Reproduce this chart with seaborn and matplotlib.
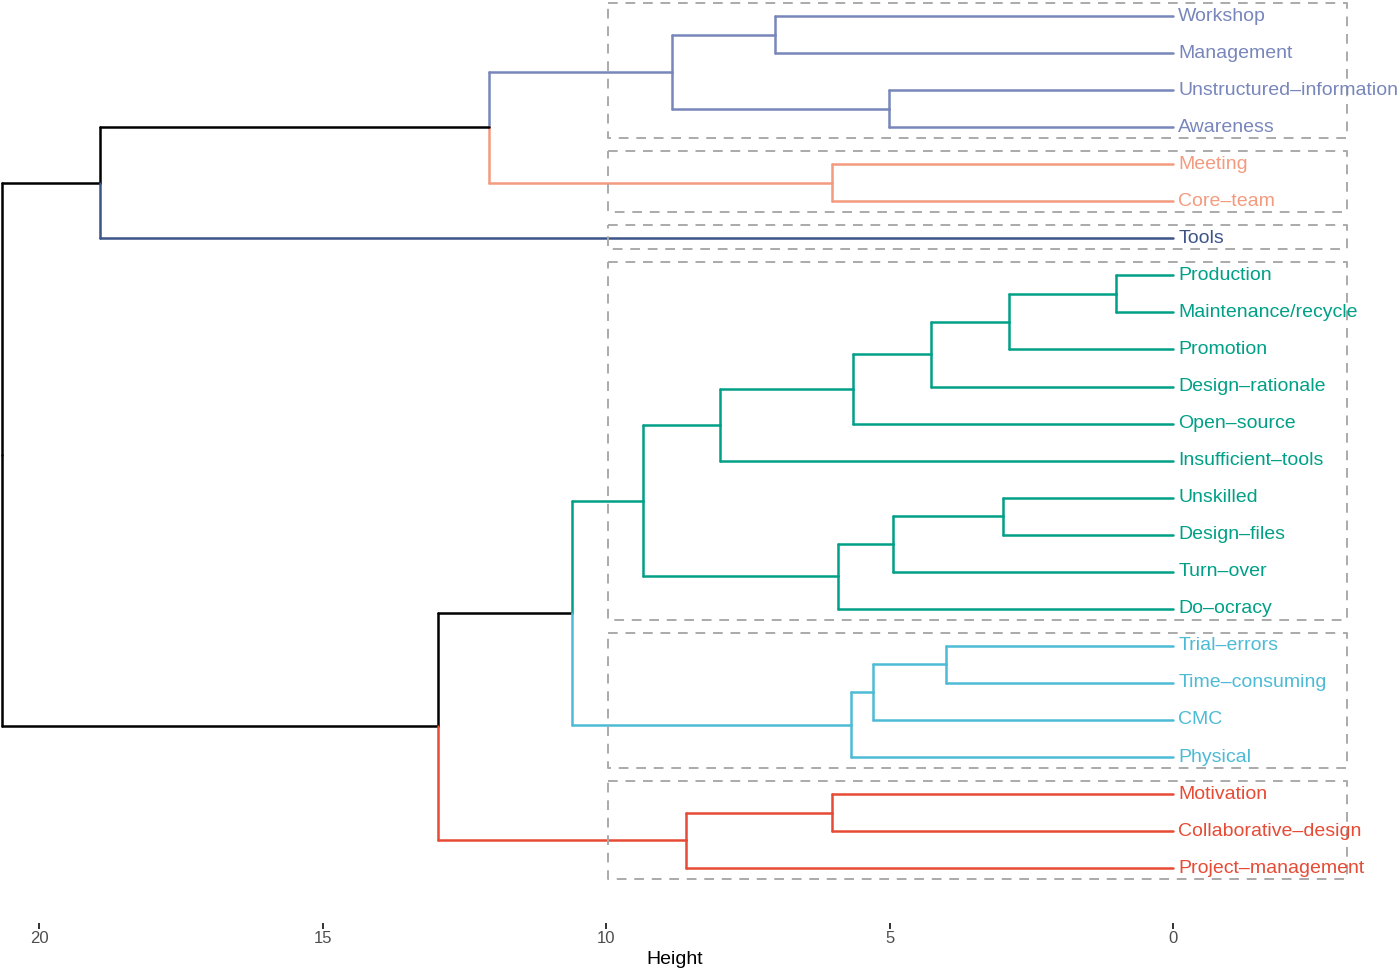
import pandas as pd
import matplotlib
matplotlib.use("Agg")
import matplotlib.pyplot as plt
import seaborn as sns

# leaves, top to bottom
labels = ["Workshop", "Management", "Unstructured–information", "Awareness",
          "Meeting", "Core–team", "Tools", "Production", "Maintenance/recycle",
          "Promotion", "Design–rationale", "Open–source", "Insufficient–tools",
          "Unskilled", "Design–files", "Turn–over", "Do–ocracy",
          "Trial–errors", "Time–consuming", "CMC", "Physical",
          "Motivation", "Collaborative–design", "Project–management"]
cluster = [0, 0, 0, 0, 1, 1, 2, 3, 3, 3, 3, 3, 3, 3, 3, 3, 3,
           4, 4, 4, 4, 5, 5, 5]
cluster_colors = ["#7886BB", "#F39B7F", "#3C5488", "#00A087", "#4DBBD5", "#E64B35"]

# merges (scipy style: leaves are 0..23, merge k creates node 24+k)
merge_a = [0, 2, 24, 4, 26, 28, 7, 30, 31, 32, 33, 13, 35, 36, 34, 17, 39, 40, 38, 21, 43, 42, 29]
merge_b = [1, 3, 25, 5, 27, 6, 8, 9, 10, 11, 12, 14, 15, 16, 37, 18, 19, 20, 41, 22, 23, 44, 45]
merge_h = [7.02, 5.01, 8.84, 6.02, 12.06, 18.93, 1.0, 2.89, 4.27, 5.64, 7.99,
           3.0, 4.94, 5.91, 9.35, 4.0, 5.29, 5.68, 10.6, 6.02, 8.59, 12.96, 20.66]

n = len(labels)
pos = {i: float(i) for i in range(n)}
hgt = {i: 0.0 for i in range(n)}
col = {i: cluster_colors[cluster[i]] for i in range(n)}
clu = {i: cluster[i] for i in range(n)}

rows = []
seg = 0
for k, (a, b, h) in enumerate(zip(merge_a, merge_b, merge_h)):
    node = n + k
    pos[node] = (pos[a] + pos[b]) / 2
    hgt[node] = h
    clu[node] = clu[a] if clu[a] == clu[b] else -1
    col[node] = col[a] if clu[node] >= 0 else "black"
    for c in (a, b):
        # horizontal arm to child, then half of the vertical bar
        rows += [(seg, h, pos[c], col[c]), (seg, hgt[c], pos[c], col[c])]
        seg += 1
        rows += [(seg, h, pos[node], col[c]), (seg, h, pos[c], col[c])]
        seg += 1

segs = pd.DataFrame(rows, columns=["seg", "height", "pos", "color"])

sns.set_theme(style="white")
plt.rcParams["font.family"] = ["Liberation Sans", "DejaVu Sans"]

fig = plt.figure(figsize=(14, 9.73), dpi=100)
ax = fig.add_axes([0, 1 - 923 / 973, 1, 923 / 973])

palette = {c: c for c in segs["color"].unique()}
sns.lineplot(data=segs, x="height", y="pos", units="seg", hue="color",
             palette=palette, estimator=None, sort=False, legend=False,
             linewidth=1.8, ax=ax)

# cluster boxes
for c in range(len(cluster_colors)):
    idx = [i for i in range(n) if cluster[i] == c]
    top, bot = min(idx) - 0.36, max(idx) + 0.3
    ax.plot([9.96, -3.07, -3.07, 9.96, 9.96], [top, top, bot, bot, top],
            color="#AAAAAA", lw=1.4, ls=(0, (5, 4)), zorder=3)

for i, lab in enumerate(labels):
    ax.text(-0.09, i, lab, color=cluster_colors[cluster[i]], fontsize=14,
            va="center", ha="left", zorder=4)

ax.set_xlim(20.69, -4.0)
ax.set_ylim(24.48, -0.432)
ax.set_xticks([20, 15, 10, 5, 0])
ax.set_yticks([])
ax.xaxis.set_ticks_position("bottom")
ax.tick_params(axis="x", which="major", direction="out", length=4, width=1.3,
               pad=1.5, labelsize=12, labelcolor="#4D4D4D", bottom=True,
               color="#222222")
ax.set_xlabel("Height", fontsize=14, color="black")
ax.xaxis.set_label_coords(675 / 1400, -0.03)
ax.set_ylabel("")
for side in ax.spines.values():
    side.set_visible(False)

fig.savefig("out.png", dpi=100)
